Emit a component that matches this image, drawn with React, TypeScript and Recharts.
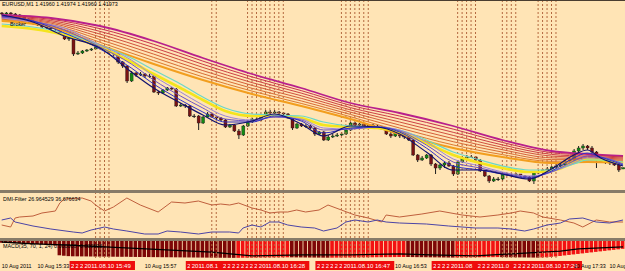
import React from 'react';
import { ComposedChart, Bar, Line, XAxis, YAxis, ReferenceLine, Cell } from 'recharts';

// ---------- DATA ----------
// price candles per 1-minute bar (bar 0 = 15:25), [open, high, low, close]
const candles: [number, number, number, number][] = [
  [1.4352, 1.4353, 1.4350, 1.4351], [1.4351, 1.4353, 1.4350, 1.4352], [1.4352, 1.4353, 1.4349, 1.4351], [1.4351, 1.4352, 1.4349, 1.4350],
  [1.4350, 1.4351, 1.4347, 1.4348], [1.4348, 1.4349, 1.4345, 1.4346], [1.4346, 1.4347, 1.4342, 1.4344], [1.4344, 1.4345, 1.4340, 1.4342],
  [1.4342, 1.4343, 1.4339, 1.4340], [1.4340, 1.4341, 1.4337, 1.4338], [1.4338, 1.4339, 1.4336, 1.4337], [1.4337, 1.4338, 1.4335, 1.4337],
  [1.4337, 1.4338, 1.4334, 1.4336], [1.4336, 1.4337, 1.4330, 1.4331], [1.4331, 1.4332, 1.4325, 1.4326], [1.4326, 1.4328, 1.4324, 1.4327],
  [1.4327, 1.4328, 1.4309, 1.4311], [1.4311, 1.4314, 1.4310, 1.4312], [1.4312, 1.4315, 1.4311, 1.4314], [1.4314, 1.4316, 1.4313, 1.4315],
  [1.4315, 1.4317, 1.4314, 1.4316], [1.4316, 1.4319, 1.4316, 1.4318], [1.4318, 1.4319, 1.4317, 1.4318], [1.4318, 1.4319, 1.4316, 1.4317],
  [1.4317, 1.4318, 1.4311, 1.4312], [1.4312, 1.4313, 1.4309, 1.4311], [1.4311, 1.4312, 1.4301, 1.4303], [1.4303, 1.4304, 1.4297, 1.4299],
  [1.4299, 1.4300, 1.4282, 1.4284], [1.4284, 1.4294, 1.4283, 1.4292], [1.4292, 1.4293, 1.4288, 1.4290], [1.4290, 1.4293, 1.4289, 1.4291],
  [1.4291, 1.4292, 1.4287, 1.4289], [1.4289, 1.4291, 1.4287, 1.4289], [1.4289, 1.4290, 1.4272, 1.4273], [1.4273, 1.4274, 1.4270, 1.4272],
  [1.4272, 1.4276, 1.4271, 1.4275], [1.4275, 1.4278, 1.4274, 1.4277], [1.4277, 1.4278, 1.4275, 1.4276], [1.4276, 1.4277, 1.4258, 1.4259],
  [1.4259, 1.4262, 1.4258, 1.4260], [1.4260, 1.4261, 1.4257, 1.4259], [1.4259, 1.4260, 1.4248, 1.4249], [1.4249, 1.4251, 1.4247, 1.4249],
  [1.4249, 1.4250, 1.4235, 1.4242], [1.4242, 1.4249, 1.4241, 1.4248], [1.4248, 1.4253, 1.4247, 1.4251], [1.4251, 1.4252, 1.4247, 1.4248],
  [1.4248, 1.4249, 1.4245, 1.4247], [1.4247, 1.4248, 1.4244, 1.4245], [1.4245, 1.4246, 1.4237, 1.4238], [1.4238, 1.4241, 1.4237, 1.4240],
  [1.4240, 1.4241, 1.4233, 1.4234], [1.4234, 1.4236, 1.4226, 1.4230], [1.4230, 1.4240, 1.4229, 1.4239], [1.4239, 1.4245, 1.4238, 1.4243],
  [1.4243, 1.4247, 1.4242, 1.4246], [1.4246, 1.4248, 1.4244, 1.4245], [1.4245, 1.4250, 1.4244, 1.4248], [1.4248, 1.4255, 1.4247, 1.4253],
  [1.4253, 1.4255, 1.4251, 1.4252], [1.4252, 1.4255, 1.4251, 1.4253], [1.4253, 1.4254, 1.4250, 1.4252], [1.4252, 1.4253, 1.4248, 1.4251],
  [1.4251, 1.4252, 1.4246, 1.4247], [1.4247, 1.4248, 1.4235, 1.4237], [1.4237, 1.4242, 1.4236, 1.4241], [1.4241, 1.4242, 1.4238, 1.4239],
  [1.4239, 1.4241, 1.4237, 1.4239], [1.4239, 1.4240, 1.4236, 1.4237], [1.4237, 1.4238, 1.4229, 1.4231], [1.4231, 1.4234, 1.4230, 1.4233],
  [1.4233, 1.4234, 1.4224, 1.4225], [1.4225, 1.4230, 1.4224, 1.4228], [1.4228, 1.4231, 1.4227, 1.4229], [1.4229, 1.4232, 1.4228, 1.4230],
  [1.4230, 1.4233, 1.4229, 1.4231], [1.4231, 1.4236, 1.4230, 1.4235], [1.4235, 1.4243, 1.4234, 1.4242], [1.4242, 1.4243, 1.4239, 1.4240],
  [1.4240, 1.4242, 1.4239, 1.4241], [1.4241, 1.4242, 1.4238, 1.4239], [1.4239, 1.4241, 1.4238, 1.4240], [1.4240, 1.4241, 1.4237, 1.4239],
  [1.4239, 1.4240, 1.4236, 1.4238], [1.4238, 1.4239, 1.4235, 1.4236], [1.4236, 1.4237, 1.4230, 1.4231], [1.4231, 1.4235, 1.4227, 1.4229],
  [1.4229, 1.4236, 1.4228, 1.4234], [1.4234, 1.4235, 1.4227, 1.4229], [1.4229, 1.4230, 1.4226, 1.4228], [1.4228, 1.4229, 1.4224, 1.4225],
  [1.4225, 1.4226, 1.4209, 1.4210], [1.4210, 1.4211, 1.4203, 1.4205], [1.4205, 1.4209, 1.4204, 1.4207], [1.4207, 1.4211, 1.4206, 1.4210],
  [1.4210, 1.4211, 1.4199, 1.4201], [1.4201, 1.4202, 1.4191, 1.4197], [1.4197, 1.4201, 1.4195, 1.4200], [1.4200, 1.4203, 1.4197, 1.4202],
  [1.4202, 1.4204, 1.4198, 1.4199], [1.4199, 1.4200, 1.4189, 1.4191], [1.4191, 1.4205, 1.4190, 1.4203], [1.4203, 1.4209, 1.4202, 1.4207],
  [1.4207, 1.4210, 1.4206, 1.4208], [1.4208, 1.4210, 1.4207, 1.4208], [1.4208, 1.4209, 1.4204, 1.4205], [1.4205, 1.4206, 1.4193, 1.4194],
  [1.4194, 1.4195, 1.4188, 1.4189], [1.4189, 1.4190, 1.4182, 1.4184], [1.4184, 1.4188, 1.4183, 1.4186], [1.4186, 1.4188, 1.4184, 1.4186],
  [1.4186, 1.4193, 1.4184, 1.4191], [1.4191, 1.4192, 1.4189, 1.4190], [1.4190, 1.4192, 1.4188, 1.4190], [1.4190, 1.4192, 1.4189, 1.4191],
  [1.4191, 1.4191, 1.4188, 1.4189], [1.4189, 1.4190, 1.4187, 1.4188], [1.4188, 1.4189, 1.4183, 1.4184], [1.4184, 1.4193, 1.4181, 1.4192],
  [1.4192, 1.4195, 1.4191, 1.4193], [1.4193, 1.4196, 1.4192, 1.4195], [1.4195, 1.4198, 1.4194, 1.4196], [1.4196, 1.4199, 1.4195, 1.4198],
  [1.4198, 1.4201, 1.4197, 1.4199], [1.4199, 1.4202, 1.4198, 1.4200], [1.4200, 1.4205, 1.4199, 1.4204], [1.4204, 1.4207, 1.4203, 1.4205],
  [1.4205, 1.4216, 1.4204, 1.4214], [1.4214, 1.4219, 1.4212, 1.4217], [1.4217, 1.4221, 1.4215, 1.4219], [1.4219, 1.4220, 1.4215, 1.4217],
  [1.4217, 1.4219, 1.4209, 1.4213], [1.4213, 1.4214, 1.4197, 1.4205], [1.4205, 1.4207, 1.4202, 1.4203], [1.4203, 1.4205, 1.4201, 1.4203],
  [1.4203, 1.4204, 1.4200, 1.4202], [1.4202, 1.4203, 1.4199, 1.4200], [1.4200, 1.4201, 1.4193, 1.4195], [1.4196, 1.41974, 1.4196, 1.41973],
];

// slow moving-average ribbon, sampled bars
const ribbonBars = [0, 11, 22, 34, 45, 56, 67, 78, 89, 101, 112, 123, 131, 139];
const maMagenta = [1.4350, 1.4347, 1.4339, 1.4324, 1.4307, 1.4291, 1.4277, 1.4262, 1.4252, 1.4239, 1.4225, 1.4214, 1.4211, 1.4209];
const maRib1 = [1.43491, 1.43457, 1.43363, 1.43207, 1.43039, 1.42881, 1.42744, 1.42597, 1.4249, 1.42359, 1.42226, 1.42123, 1.42099, 1.4208];
const maRib2 = [1.43483, 1.43444, 1.43336, 1.43174, 1.43007, 1.42853, 1.42719, 1.42574, 1.4246, 1.42327, 1.42201, 1.42106, 1.42087, 1.4207];
const maRib3 = [1.43474, 1.43431, 1.43309, 1.43141, 1.42976, 1.42824, 1.42693, 1.42551, 1.4243, 1.42296, 1.42177, 1.42089, 1.42076, 1.4206];
const maRib4 = [1.43466, 1.43419, 1.43281, 1.43109, 1.42944, 1.42796, 1.42667, 1.42529, 1.424, 1.42264, 1.42153, 1.42071, 1.42064, 1.4205];
const maRib5 = [1.43457, 1.43406, 1.43254, 1.43076, 1.42913, 1.42767, 1.42641, 1.42506, 1.4237, 1.42233, 1.42129, 1.42054, 1.42053, 1.4204];
const maRib6 = [1.43449, 1.43393, 1.43227, 1.43043, 1.42881, 1.42739, 1.42616, 1.42483, 1.4234, 1.42201, 1.42104, 1.42037, 1.42041, 1.4203];
const maOrange = [1.4344, 1.4338, 1.4320, 1.4301, 1.4285, 1.4271, 1.4259, 1.4246, 1.4231, 1.4217, 1.4208, 1.4202, 1.4203, 1.4202];

// fast moving averages, sampled bars
const fastBars = [0, 7, 14, 22, 29, 34, 40, 45, 50, 56, 61, 67, 72, 78, 84, 89, 95, 101, 107, 112, 118, 123, 128, 131, 134, 139];
const maCyan = [1.4341, 1.4338, 1.4332, 1.4320, 1.4307, 1.4295, 1.4281, 1.4268, 1.4257, 1.4251, 1.4250, 1.4249, 1.4243, 1.4239, 1.4238, 1.4235, 1.4225, 1.4213, 1.4205, 1.4199, 1.4195, 1.4195, 1.4201, 1.4205, 1.4205, 1.4203];
const maYellow = [1.4339, 1.4336, 1.4330, 1.4318, 1.4303, 1.4291, 1.4277, 1.4265, 1.4254, 1.4249, 1.4249, 1.4247, 1.4240, 1.4238, 1.4237, 1.4233, 1.4222, 1.4210, 1.4202, 1.4197, 1.4193, 1.4194, 1.4202, 1.4206, 1.4205, 1.4202];
const maFast1 = [1.4350, 1.4343, 1.4329, 1.4317, 1.4293, 1.4277, 1.4262, 1.4250, 1.4240, 1.4244, 1.4251, 1.4241, 1.4229, 1.4239, 1.4238, 1.4231, 1.4213, 1.4195, 1.4195, 1.4191, 1.4186, 1.4196, 1.4210, 1.4215, 1.4207, 1.4199];
const maFast2 = [1.4349, 1.4344, 1.4332, 1.4316, 1.4297, 1.4281, 1.4265, 1.4253, 1.4243, 1.4243, 1.4249, 1.4244, 1.4232, 1.4237, 1.4238, 1.4233, 1.4217, 1.4199, 1.4195, 1.4191, 1.4187, 1.4194, 1.4207, 1.4212, 1.4208, 1.4200];
const maFast3 = [1.4348, 1.4344, 1.4335, 1.4318, 1.4301, 1.4285, 1.4269, 1.4257, 1.4246, 1.4244, 1.4248, 1.4245, 1.4235, 1.4236, 1.4238, 1.4234, 1.4220, 1.4203, 1.4197, 1.4192, 1.4188, 1.4193, 1.4204, 1.4209, 1.4208, 1.4201];
const maFast4 = [1.4347, 1.4343, 1.4337, 1.4320, 1.4305, 1.4289, 1.4273, 1.4260, 1.4249, 1.4245, 1.4248, 1.4246, 1.4237, 1.4236, 1.4238, 1.4235, 1.4223, 1.4206, 1.4199, 1.4193, 1.4189, 1.4193, 1.4202, 1.4207, 1.4207, 1.4201];

// DMI-Filter window
const dmiBrownBars = [0, 2, 3, 4, 7, 9, 12, 13, 14, 18, 20, 21, 23, 25, 28, 31, 35, 38, 41, 44, 47, 49, 51, 53, 56, 58, 60, 62, 64, 66, 68, 71, 73, 76, 79, 82, 85, 86, 89, 94, 98, 103, 107, 111, 114, 116, 119, 121, 125, 128, 130, 133, 136, 139];
const dmiBrown = [13, 11, 20, 21, 22, 25, 27, 35, 39, 40, 37, 33, 27, 31, 40, 33, 26, 36, 35, 37, 33, 34, 33, 35, 30, 28, 25, 26, 26, 28, 26, 28, 33, 28, 23, 20, 16, 23, 21, 24, 27, 23, 21, 23, 25, 27, 25, 21, 18, 15, 11, 18, 16, 16];
const dmiBlueBars = [0, 2, 3, 7, 11, 16, 18, 20, 23, 25, 28, 32, 35, 37, 40, 44, 47, 51, 53, 54, 56, 58, 60, 62, 64, 67, 70, 72, 75, 77, 79, 82, 84, 86, 89, 95, 100, 106, 111, 114, 117, 119, 122, 125, 127, 130, 133, 136, 139];
const dmiBlue = [18, 20, 16, 12, 9, 6, 5, 8, 11, 9, 7, 4, 4, 7, 6, 4, 6, 6, 5, 10, 13, 11, 16, 16, 13, 11, 10, 7, 10, 16, 18, 16, 18, 16, 15, 14, 12, 10, 10, 9, 7, 9, 13, 15, 19, 20, 16, 15, 18];

// MACD window (units of 0.0001)
const macdHist = [
  -1.0, -1.1, -1.2, -1.3, -1.4, -1.5, -1.6, -1.7, -1.9, -2.0, -2.2, -2.4, -2.6,
  -8.4, -8.7, -8.9, -9.0, -9.02, -9.06, -9.08, -9.12, -9.15, -9.17, -9.2, -9.23, -9.25, -9.28, -9.3, -9.33, -9.36, -9.38, -9.41, -9.43, -9.46, -9.49, -9.51, -9.54, -9.56, -9.58, -9.61, -9.63, -9.66, -9.68, -9.71, -9.73, -9.75, -9.78, -9.8, -9.82, -9.85, -9.87, -9.89, -9.92,
  -9.89, -9.86, -9.84, -9.81, -9.78, -9.76, -9.73, -9.7, -9.68, -9.65, -9.63, -9.6,
  -9.62, -9.65, -9.67, -9.7, -9.72, -9.75, -9.77, -9.8, -9.82,
  -9.8, -9.78, -9.75, -9.73, -9.7, -9.68, -9.65, -9.62, -9.6, -9.58, -9.55, -9.53, -9.5, -9.48, -9.45, -9.43, -9.4,
  -9.43, -9.46, -9.5, -9.53, -9.56, -9.6, -9.63, -9.66, -9.7, -9.73, -9.76,
  -9.74, -9.71, -9.68, -9.65, -9.62, -9.6, -9.57, -9.54, -9.51, -9.48,
  -9.51, -9.55, -9.58, -9.62, -9.65, -9.68, -9.72, -9.75, -9.78,
  -9.7, -9.55, -9.35, -9.1, -8.8, -8.5, -8.2, -7.9, -7.6, -7.3, -7.0, -6.7, -6.4, -6.1, -5.8, -5.5, -5.2, -4.9, -4.6,
];
const signalBars = [0, 6, 15, 30, 47, 56, 67, 78, 89, 96, 106, 117, 125, 129, 139];
const macdSignal = [-0.6, -1.5, -2.4, -4.3, -6.5, -8.8, -8.2, -8.2, -7.6, -8.2, -8.8, -7.1, -5.9, -4.6, -3.4];

// vertical lines and their time tags
const vlineBars = [21, 22, 23, 24, 47, 48, 55, 56, 57, 58, 59, 60, 61, 62, 63, 76, 77, 78, 79, 80, 81, 82, 102, 103, 104, 105, 106, 112, 113, 114, 115, 120, 121, 122, 123, 124];
const vlineLabels = [
  '2011.08.10 15:46', '2011.08.10 15:47', '2011.08.10 15:48', '2011.08.10 15:49',
  '2011.08.10 16:12', '2011.08.10 16:13',
  '2011.08.10 16:20', '2011.08.10 16:21', '2011.08.10 16:22', '2011.08.10 16:23', '2011.08.10 16:24', '2011.08.10 16:25', '2011.08.10 16:26', '2011.08.10 16:27', '2011.08.10 16:28',
  '2011.08.10 16:41', '2011.08.10 16:42', '2011.08.10 16:43', '2011.08.10 16:44', '2011.08.10 16:45', '2011.08.10 16:46', '2011.08.10 16:47',
  '2011.08.10 17:07', '2011.08.10 17:08', '2011.08.10 17:09', '2011.08.10 17:10', '2011.08.10 17:11',
  '2011.08.10 17:17', '2011.08.10 17:18', '2011.08.10 17:19', '2011.08.10 17:20',
  '2011.08.10 17:25', '2011.08.10 17:26', '2011.08.10 17:27', '2011.08.10 17:28', '2011.08.10 17:29',
];
// time-axis labels not hidden behind the tags
const timeTickBars = [0, 8, 32, 88, 128, 136];
const timeTickLabels = ['10 Aug 2011', '10 Aug 15:33', '10 Aug 15:57', '10 Aug 16:53', '10 Aug 17:33', '10 Aug 17:41'];

const titleText = 'EURUSD,M1  1.41960 1.41974 1.41960 1.41973';
const dmiText = 'DMI-Filter 26.964529 36.676634';
const macdText = 'MACD(35, 70, 1, 24) 0.000000 -0.000806';

// ---------- STYLE ----------
const BG = '#FFE4B5';
const FONT = '"Liberation Sans", Arial, sans-serif';
const X_DOMAIN: [number, number] = [-0.38, 139.44];
const PX_PER_BAR = 625 / (X_DOMAIN[1] - X_DOMAIN[0]);
const TAG_W = 52;
const VLINE = '#b4683f';
const M0 = { top: 0, right: 0, bottom: 0, left: 0 };

const candleData = candles.map(([o, h, l, c], i) => ({ i, o, h, l, c, range: [l, h] }));
const pts = (bars: number[], vals: number[]) => bars.map((i, k) => ({ i, v: vals[k] }));
const macdData = macdHist.map((h, i) => ({ i, h }));

// visible part of each tag text (later tags are drawn over earlier ones)
const tagVisible = vlineLabels.map((t, k) => {
  if (k === vlineBars.length - 1) return t;
  const gap = (vlineBars[k + 1] - vlineBars[k]) * PX_PER_BAR;
  if (gap >= TAG_W) return t;
  const n = Math.max(1, Math.floor((gap - 1.5) / 3.3));
  return t.slice(0, n);
});

const slowSeries = [
  { vals: maMagenta, color: '#b81f8c', w: 1.8 },
  { vals: maRib1, color: '#c8304e', w: 1 },
  { vals: maRib2, color: '#cc4046', w: 1 },
  { vals: maRib3, color: '#d0503f', w: 1 },
  { vals: maRib4, color: '#d45e3a', w: 1 },
  { vals: maRib5, color: '#d86c35', w: 1 },
  { vals: maRib6, color: '#dc7a30', w: 1 },
  { vals: maOrange, color: '#f29e1e', w: 2 },
];
const fastSeries = [
  { vals: maYellow, color: '#f4e41c', w: 2.6 },
  { vals: maCyan, color: '#6cd8c6', w: 1.2 },
  { vals: maFast4, color: '#9a86d8', w: 1 },
  { vals: maFast3, color: '#6c52c4', w: 1 },
  { vals: maFast2, color: '#2e30c8', w: 1 },
  { vals: maFast1, color: '#121270', w: 1.2 },
];

const Candle = (props: any) => {
  const { x, y, width, height, payload } = props;
  if (x == null || y == null) return null;
  const top = Math.min(y, y + height);
  const hh = Math.abs(height);
  const { o, h, l, c } = payload;
  const k = h - l > 0 ? hh / (h - l) : 0;
  const yO = top + (h - o) * k;
  const yC = top + (h - c) * k;
  const bTop = Math.min(yO, yC);
  const bH = Math.max(Math.abs(yO - yC), 0.8);
  const cx = x + width / 2;
  const fill = c > o ? '#138a13' : c < o ? '#7a1212' : '#222';
  return (
    <g>
      <line x1={cx} x2={cx} y1={top} y2={top + hh} stroke="#1e1e1e" strokeWidth={1} />
      <rect x={x} y={bTop} width={width} height={bH} fill={fill} stroke="#1e1e1e" strokeWidth={0.4} />
    </g>
  );
};

const TimeTag = (props: any) => {
  const { viewBox, text } = props;
  if (!viewBox) return null;
  const x = viewBox.x;
  const yb = viewBox.y + viewBox.height;
  return (
    <g>
      <rect x={x - TAG_W / 2} y={yb + 3} width={TAG_W} height={9} fill="#ee0c0c" />
      <text x={x - TAG_W / 2 + 1.5} y={yb + 10} fill="#ffffff" fontSize={6} fontFamily={FONT}>{text}</text>
    </g>
  );
};

const TimeTick = (props: any) => {
  const { x, y, payload } = props;
  const idx = timeTickBars.indexOf(payload.value);
  return (
    <text x={x} y={y + 1.5} fill="#000" fontSize={5.4} fontFamily={FONT} textAnchor="start">
      {idx >= 0 ? timeTickLabels[idx] : ''}
    </text>
  );
};

const vlines = (withLabel: boolean) =>
  vlineBars.map((b, k) => (
    <ReferenceLine
      key={'v' + b}
      x={b}
      stroke={VLINE}
      strokeWidth={1}
      strokeDasharray="2 2"
      label={withLabel ? <TimeTag text={tagVisible[k]} /> : undefined}
    />
  ));

const textStyle = (left: number, top: number): React.CSSProperties => ({
  position: 'absolute', left, top, fontSize: 5.4, lineHeight: '7px', color: '#000', fontFamily: FONT, whiteSpace: 'nowrap', pointerEvents: 'none',
});

export default function App() {
  return (
    <div style={{ position: 'absolute', left: 0, top: 0, width: 625, height: 271, background: BG, overflow: 'hidden' }}>
      <div style={{ position: 'absolute', left: 0, top: 0, width: 625, height: 1, background: '#4a3d30' }} />
      <div style={{ position: 'absolute', left: 0, top: 1 }}>
        <ComposedChart width={625} height={189} data={candleData} margin={M0}>
          <XAxis dataKey="i" type="number" domain={X_DOMAIN} hide allowDataOverflow />
          <YAxis type="number" domain={[1.4175, 1.4364]} hide allowDataOverflow />
          {vlines(false)}
          {slowSeries.map((s, k) => (
            <Line key={'s' + k} data={pts(ribbonBars, s.vals)} dataKey="v" type="monotone" stroke={s.color} strokeWidth={s.w} dot={false} isAnimationActive={false} />
          ))}
          {fastSeries.map((s, k) => (
            <Line key={'f' + k} data={pts(fastBars, s.vals)} dataKey="v" type="monotone" stroke={s.color} strokeWidth={s.w} dot={false} isAnimationActive={false} />
          ))}
          <Bar dataKey="range" barSize={3} shape={(p: any) => <Candle {...p} />} isAnimationActive={false} />
        </ComposedChart>
      </div>
      <div style={textStyle(2, 1)}>{titleText}</div>
      <div style={textStyle(10, 21)}>Broker</div>

      <div style={{ position: 'absolute', left: 0, top: 190, width: 625, height: 3, background: '#877b68' }} />

      <div style={{ position: 'absolute', left: 0, top: 193 }}>
        <ComposedChart width={625} height={45} data={candleData} margin={M0}>
          <XAxis dataKey="i" type="number" domain={X_DOMAIN} hide allowDataOverflow />
          <YAxis type="number" domain={[0, 45]} hide allowDataOverflow />
          {vlines(false)}
          <Line data={pts(dmiBrownBars, dmiBrown)} dataKey="v" type="linear" stroke="#bf5f3d" strokeWidth={1} dot={false} isAnimationActive={false} />
          <Line data={pts(dmiBlueBars, dmiBlue)} dataKey="v" type="linear" stroke="#4c44a6" strokeWidth={1} dot={false} isAnimationActive={false} />
        </ComposedChart>
      </div>
      <div style={textStyle(3, 196)}>{dmiText}</div>

      <div style={{ position: 'absolute', left: 0, top: 238, width: 625, height: 3, background: '#877b68' }} />

      <div style={{ position: 'absolute', left: 0, top: 241 }}>
        <ComposedChart width={625} height={30} data={macdData} margin={M0}>
          <XAxis
            dataKey="i"
            type="number"
            domain={X_DOMAIN}
            allowDataOverflow
            height={13}
            ticks={timeTickBars}
            interval={0}
            tickLine={false}
            axisLine={false}
            tick={<TimeTick />}
          />
          <YAxis type="number" domain={[-10, 0]} hide allowDataOverflow />
          <Bar dataKey="h" barSize={3.6} isAnimationActive={false}>
            {macdData.map((d, i) => (
              <Cell key={i} fill={i > 0 && d.h > macdHist[i - 1] ? '#f21212' : '#7e0707'} />
            ))}
          </Bar>
          <Line data={pts(signalBars, macdSignal)} dataKey="v" type="linear" stroke="#000" strokeWidth={1.3} dot={false} isAnimationActive={false} />
          {vlines(true)}
        </ComposedChart>
      </div>
      <div style={textStyle(3, 243)}>{macdText}</div>
    </div>
  );
}
